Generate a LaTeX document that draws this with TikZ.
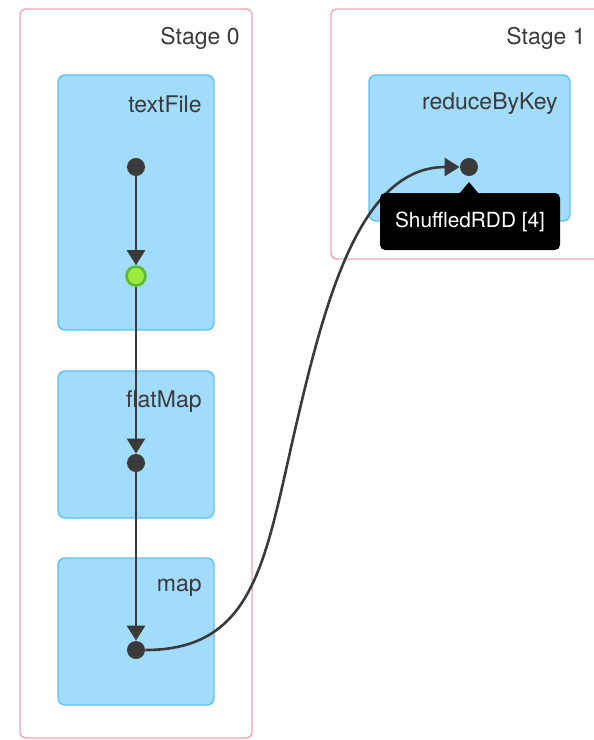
\documentclass[tikz,border=0pt]{standalone}
\usepackage{fontspec}
\setmainfont{TeX Gyre Heros}
\usetikzlibrary{arrows.meta}

\definecolor{stagepink}{HTML}{F7A3B0}
\definecolor{opfill}{HTML}{A2DCFC}
\definecolor{opline}{HTML}{5CC3F7}
\definecolor{dotgray}{HTML}{3A3A3A}
\definecolor{cachefill}{HTML}{9BEA3F}
\definecolor{cacheline}{HTML}{5DBB32}

\tikzset{
  stagebox/.style={draw=stagepink,line width=0.7pt,rounded corners=3pt,fill=white},
  opbox/.style={draw=opline,line width=0.7pt,fill=opfill,rounded corners=3.5pt},
  boxlabel/.style={anchor=east,text=dotgray,inner sep=0pt,font=\fontsize{11.5}{14}\selectfont},
  rdd/.style={circle,fill=dotgray,minimum size=9pt,inner sep=0pt},
  cached/.style={circle,fill=cachefill,draw=cacheline,line width=1.3pt,minimum size=9.5pt,inner sep=0pt},
  edge/.style={draw=dotgray,line width=1.3pt,-{Triangle[length=7.5pt,width=9pt]}}
}

\begin{document}
\begin{tikzpicture}[x=0.5pt,y=-0.5pt]
    \useasboundingbox (0,0) rectangle (594,740);
    \clip (0,0) rectangle (594,740);

    % stages
    \node[stagebox,minimum width=116pt,minimum height=364.5pt] (stage0) at (136,373.5) {};
    \node[stagebox,minimum width=154.5pt,minimum height=125pt] (stage1) at (485.5,134) {};
    \node[boxlabel] (stage0lbl) at (240,38) {Stage 0};
    \node[boxlabel] (stage1lbl) at (586,38) {Stage 1};

    % operations
    \node[opbox,minimum width=78pt,minimum height=127.5pt] (textfile) at (136,202.5) {};
    \node[opbox,minimum width=78pt,minimum height=73.5pt] (flatmap) at (136,444.5) {};
    \node[opbox,minimum width=78pt,minimum height=73.5pt] (map) at (136,631.5) {};
    \node[opbox,minimum width=100.5pt,minimum height=73pt] (reduce) at (469.5,148) {};
    \node[boxlabel] (textfilelbl) at (202,104) {textFile};
    \node[boxlabel] (flatmaplbl) at (202,402) {flatMap};
    \node[boxlabel] (maplbl) at (202,588) {map};
    \node[boxlabel] (reducelbl) at (558,104) {reduceByKey};

    % rdds
    \node[rdd] (rdd0) at (136,167) {};
    \node[cached] (rdd1) at (136,276) {};
    \node[rdd] (rdd2) at (136,463) {};
    \node[rdd] (rdd3) at (136,650) {};
    \node[rdd] (rdd4) at (469,167) {};
    \coordinate (shufflebend) at (295,430);

    \draw[edge] (rdd3) .. controls (255,650) and (265,560) .. (shufflebend)
      .. controls (325,300) and (360,167) .. (rdd4);
    \draw[edge] (rdd0) -- (rdd1);
    \draw[edge] (rdd1) -- (rdd2);
    \draw[edge] (rdd2) -- (rdd3);

    % tooltip
    \fill[black] (459,194) -- (469,182) -- (479,194) -- cycle;
    \node[fill=black,rounded corners=2.5pt,minimum width=90pt,minimum height=28.5pt,
      text=white,font=\fontsize{10.4}{12}\selectfont] (tooltip) at (470,221.5) {ShuffledRDD [4]};
\end{tikzpicture}
\end{document}
